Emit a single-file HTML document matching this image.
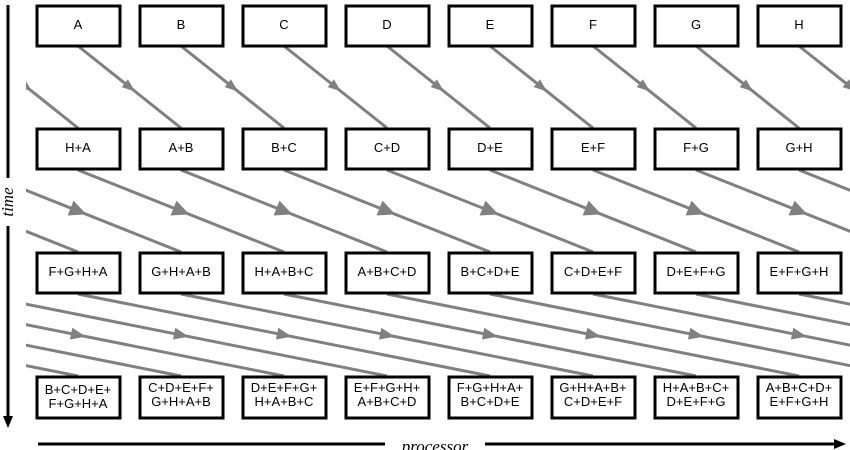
<!DOCTYPE html>
<html><head><meta charset="utf-8"><style>
html,body{margin:0;padding:0;background:#fff}
svg{display:block}
text{font-family:"Liberation Sans",sans-serif;font-size:13px;fill:#000}
</style></head><body>
<svg width="850" height="450" viewBox="0 0 850 450" xmlns="http://www.w3.org/2000/svg">
<defs>
<clipPath id="c"><rect x="26" y="0" width="824" height="450"/></clipPath>
<g id="r1"><line x1="0" y1="46" x2="103" y2="128" stroke="#808080" stroke-width="3"/><polygon points="7,0 -6,-5 -6,5" fill="#808080" transform="translate(51.5,87) rotate(38.5)"/></g>
<g id="r2"><line x1="0" y1="170" x2="206" y2="252" stroke="#808080" stroke-width="3"/><polygon points="9,0 -8,-8 -8,8" fill="#808080" transform="translate(103,211) rotate(21.7)"/></g>
<g id="r3"><line x1="0" y1="294" x2="412" y2="376" stroke="#808080" stroke-width="3"/><polygon points="8,0 -7,-6 -7,6" fill="#808080" transform="translate(206,335) rotate(11.3)"/></g>
</defs>
<g clip-path="url(#c)">
<use href="#r1" x="-25"/><use href="#r1" x="78"/><use href="#r1" x="181"/><use href="#r1" x="284"/><use href="#r1" x="387"/><use href="#r1" x="490"/><use href="#r1" x="593"/><use href="#r1" x="696"/><use href="#r1" x="799"/>
<use href="#r2" x="-128"/><use href="#r2" x="-25"/><use href="#r2" x="78"/><use href="#r2" x="181"/><use href="#r2" x="284"/><use href="#r2" x="387"/><use href="#r2" x="490"/><use href="#r2" x="593"/><use href="#r2" x="696"/><use href="#r2" x="799"/>
<use href="#r3" x="-334"/><use href="#r3" x="-231"/><use href="#r3" x="-128"/><use href="#r3" x="-25"/><use href="#r3" x="78"/><use href="#r3" x="181"/><use href="#r3" x="284"/><use href="#r3" x="387"/><use href="#r3" x="490"/><use href="#r3" x="593"/><use href="#r3" x="696"/><use href="#r3" x="799"/>
</g>
<g fill="#fff" stroke="#000" stroke-width="3">
<rect x="37" y="6" width="83" height="40"/><rect x="140" y="6" width="83" height="40"/><rect x="243" y="6" width="83" height="40"/><rect x="346" y="6" width="83" height="40"/><rect x="449" y="6" width="83" height="40"/><rect x="552" y="6" width="83" height="40"/><rect x="655" y="6" width="83" height="40"/><rect x="758" y="6" width="83" height="40"/>
<rect x="37" y="129" width="83" height="40"/><rect x="140" y="129" width="83" height="40"/><rect x="243" y="129" width="83" height="40"/><rect x="346" y="129" width="83" height="40"/><rect x="449" y="129" width="83" height="40"/><rect x="552" y="129" width="83" height="40"/><rect x="655" y="129" width="83" height="40"/><rect x="758" y="129" width="83" height="40"/>
<rect x="37" y="253" width="83" height="40"/><rect x="140" y="253" width="83" height="40"/><rect x="243" y="253" width="83" height="40"/><rect x="346" y="253" width="83" height="40"/><rect x="449" y="253" width="83" height="40"/><rect x="552" y="253" width="83" height="40"/><rect x="655" y="253" width="83" height="40"/><rect x="758" y="253" width="83" height="40"/>
<rect x="37" y="377" width="83" height="41"/><rect x="140" y="377" width="83" height="41"/><rect x="243" y="377" width="83" height="41"/><rect x="346" y="377" width="83" height="41"/><rect x="449" y="377" width="83" height="41"/><rect x="552" y="377" width="83" height="41"/><rect x="655" y="377" width="83" height="41"/><rect x="758" y="377" width="83" height="41"/>
</g>
<g text-anchor="middle">
<text x="78" y="29">A</text><text x="181" y="29">B</text><text x="284" y="29">C</text><text x="387" y="29">D</text><text x="490" y="29">E</text><text x="593" y="29">F</text><text x="696" y="29">G</text><text x="799" y="29">H</text>
<text x="78" y="152">H+A</text><text x="181" y="152">A+B</text><text x="284" y="152">B+C</text><text x="387" y="152">C+D</text><text x="490" y="152">D+E</text><text x="593" y="152">E+F</text><text x="696" y="152">F+G</text><text x="799" y="152">G+H</text>
<text x="78" y="276">F+G+H+A</text><text x="181" y="276">G+H+A+B</text><text x="284" y="276">H+A+B+C</text><text x="387" y="276">A+B+C+D</text><text x="490" y="276">B+C+D+E</text><text x="593" y="276">C+D+E+F</text><text x="696" y="276">D+E+F+G</text><text x="799" y="276">E+F+G+H</text>
<text x="78" y="394">B+C+D+E+</text><text x="78" y="408">F+G+H+A</text>
<text x="181" y="392">C+D+E+F+</text><text x="181" y="406">G+H+A+B</text>
<text x="284" y="392">D+E+F+G+</text><text x="284" y="406">H+A+B+C</text>
<text x="387" y="392">E+F+G+H+</text><text x="387" y="406">A+B+C+D</text>
<text x="490" y="392">F+G+H+A+</text><text x="490" y="406">B+C+D+E</text>
<text x="593" y="392">G+H+A+B+</text><text x="593" y="406">C+D+E+F</text>
<text x="696" y="392">H+A+B+C+</text><text x="696" y="406">D+E+F+G</text>
<text x="799" y="392">A+B+C+D+</text><text x="799" y="406">E+F+G+H</text>
</g>
<line x1="8" y1="5" x2="8" y2="418" stroke="#000" stroke-width="3"/>
<polygon points="3,416 13,416 8,428" fill="#000"/>
<rect x="0" y="178" width="16" height="48" fill="#fff"/>
<text x="0" y="0" transform="translate(13,202) rotate(-90)" text-anchor="middle" style="font-family:'Liberation Serif',serif;font-style:italic;font-size:17px">time</text>
<line x1="38" y1="444" x2="836" y2="444" stroke="#000" stroke-width="3"/>
<polygon points="834,439 846,444 834,449" fill="#000"/>
<rect x="385" y="432" width="100" height="18" fill="#fff"/>
<text x="435" y="452" text-anchor="middle" style="font-family:'Liberation Serif',serif;font-style:italic;font-size:17px">processor</text>
</svg>
</body></html>
